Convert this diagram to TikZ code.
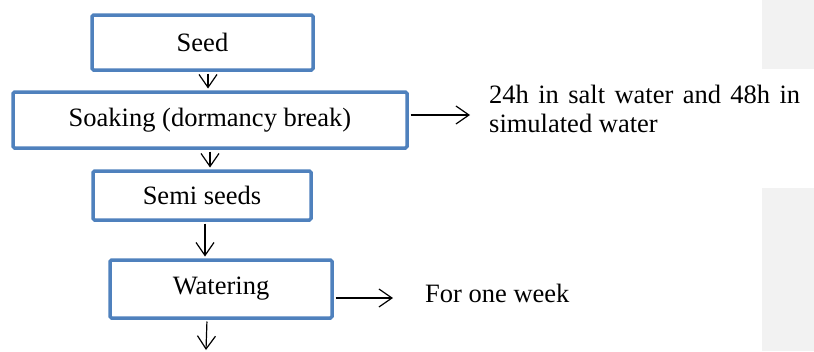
\documentclass[tikz,border=0pt]{standalone}
\usepackage{fontspec}
\setmainfont{Liberation Serif}
\usetikzlibrary{arrows.meta}
\definecolor{boxblue}{HTML}{4F81BD}
\definecolor{panelgray}{HTML}{F2F2F2}
\begin{document}
\begin{tikzpicture}[x=1pt,y=-1pt,
  stepbox/.style={draw=boxblue, line width=3.5pt, rounded corners=1.5pt, fill=white, inner sep=0pt, font=\fontsize{26.5}{29}\selectfont},
  arr/.style={line width=1.2pt, shorten <=1.75pt, -{Straight Barb[length=13pt,width=18pt,line width=1.2pt]}},
  lbl/.style={inner sep=0pt, font=\fontsize{26.5}{29}\selectfont}]
\useasboundingbox (0,0) rectangle (814,351);
\fill[panelgray] (762,0) rectangle (814,69);
\fill[panelgray] (762,188) rectangle (814,351);
\node[stepbox, minimum width=221pt, minimum height=55pt] (seed) at (202.5,42.5) {Seed};
\node[stepbox, minimum width=394pt, minimum height=56pt] (soak) at (210,120) {Soaking (dormancy break)};
\node[stepbox, minimum width=218pt, minimum height=49pt] (semi) at (202,195.5) {Semi seeds};
\node[stepbox, minimum width=222pt, minimum height=58pt] (water) at (221,289) {Watering};
\node[lbl, anchor=base west, text width=311pt, align=justify] (note1) at (489,103) {24h in salt water and 48h in\linebreak simulated water};
\node[lbl, anchor=base west] (note2) at (425,302) {For one week};
\coordinate (n1tip) at (470,115);
\coordinate (n2tip) at (393,298);
\coordinate (endtip) at (206,350);
\draw[arr, shorten >=1.75pt] ([xshift=5.5pt]seed.south) -- ([xshift=-2pt]soak.north);
\draw[arr, shorten >=1.75pt] (soak.south) -- ([xshift=8pt]semi.north);
\draw[arr, shorten >=1.75pt] ([xshift=3pt]semi.south) -- ([xshift=-16pt]water.north);
\draw[arr] ([xshift=-14pt]water.south) -- (endtip);
\draw[arr] ([yshift=5pt]soak.east) -- (n1tip);
\draw[arr] ([yshift=-9pt]water.east) -- (n2tip);
\end{tikzpicture}
\end{document}
